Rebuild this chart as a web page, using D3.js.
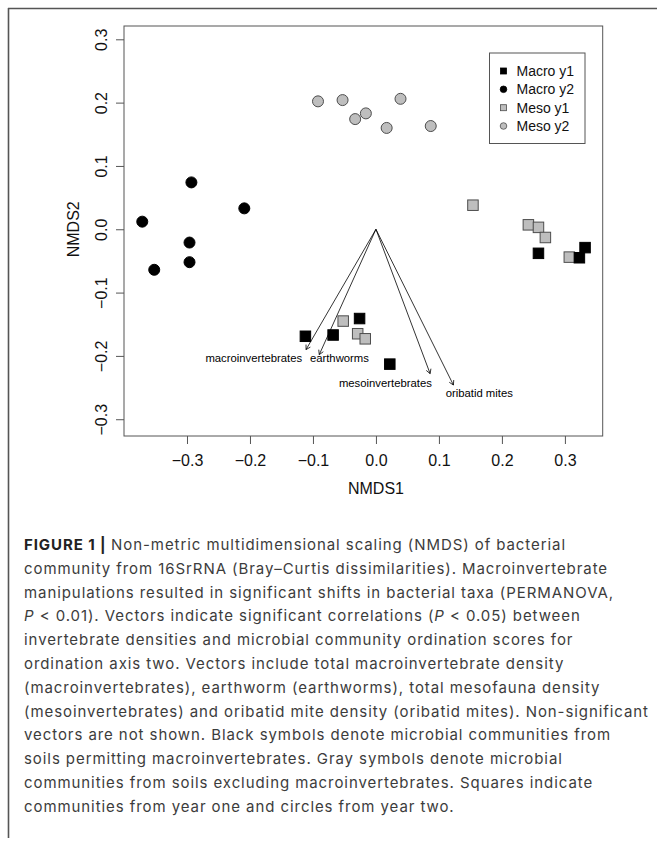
<!DOCTYPE html>
<html>
<head>
<meta charset="utf-8">
<script src="https://cdn.jsdelivr.net/npm/d3@7"></script>
<style>
  html, body { margin: 0; padding: 0; background: #fff; }
  svg { display: block; }
</style>
</head>
<body>
<svg id="chart" width="657" height="841"></svg>
<script>
// ---------------- DATA ----------------
const xTicks = [-0.3, -0.2, -0.1, 0.0, 0.1, 0.2, 0.3];
const yTicks = [-0.3, -0.2, -0.1, 0.0, 0.1, 0.2, 0.3];

// NMDS scores [NMDS1, NMDS2]
const macroY1 = [[-0.112,-0.169],[-0.068,-0.167],[-0.026,-0.141],[0.022,-0.213],[0.258,-0.038],[0.323,-0.045],[0.332,-0.029]];
const macroY2 = [[-0.371,0.012],[-0.352,-0.064],[-0.293,0.074],[-0.296,-0.021],[-0.296,-0.052],[-0.209,0.033]];
const mesoY1  = [[-0.052,-0.145],[-0.029,-0.165],[-0.017,-0.173],[0.154,0.038],[0.242,0.007],[0.258,0.003],[0.269,-0.013],[0.307,-0.044]];
const mesoY2  = [[-0.092,0.202],[-0.053,0.204],[-0.033,0.174],[-0.016,0.183],[0.017,0.160],[0.039,0.206],[0.087,0.163]];

// envfit vectors
const vectorNames = ["macroinvertebrates", "earthworms", "mesoinvertebrates", "oribatid mites"];
const vectorX = [-0.111, -0.090, 0.086, 0.123];
const vectorY = [-0.190, -0.198, -0.228, -0.246];
const vectorLabelX = [-0.194, -0.058, 0.015, 0.164];
const vectorLabelY = [-0.204, -0.204, -0.243, -0.259];

const legendLabels = ["Macro y1", "Macro y2", "Meso y1", "Meso y2"];

const captionLines = [
  [["b","FIGURE 1 | "],["n","Non-metric multidimensional scaling (NMDS) of bacterial"]],
  [["n","community from 16SrRNA (Bray\u2013Curtis dissimilarities). Macroinvertebrate"]],
  [["n","manipulations resulted in significant shifts in bacterial taxa (PERMANOVA,"]],
  [["i","P"],["n"," < 0.01). Vectors indicate significant correlations ("],["i","P"],["n"," < 0.05) between"]],
  [["n","invertebrate densities and microbial community ordination scores for"]],
  [["n","ordination axis two. Vectors include total macroinvertebrate density"]],
  [["n","(macroinvertebrates), earthworm (earthworms), total mesofauna density"]],
  [["n","(mesoinvertebrates) and oribatid mite density (oribatid mites). Non-significant"]],
  [["n","vectors are not shown. Black symbols denote microbial communities from"]],
  [["n","soils permitting macroinvertebrates. Gray symbols denote microbial"]],
  [["n","communities from soils excluding macroinvertebrates. Squares indicate"]],
  [["n","communities from year one and circles from year two."]]
];
const captionLineEnds = [575, 608, 610, 584, 570, 560, 595, 636, 616, 563, 594, 454];

// ---------------- DRAW ----------------
const svg = d3.select("#chart");
const FONT = "'Liberation Sans', Arial, Helvetica, sans-serif";
const CAP_FONT = "Inter, 'Liberation Sans', Arial, sans-serif";
const GRAY = "#bebebe";
const EDGE = "#4d4d4d";

// outer frame (top + left rule)
svg.append("line").attr("x1", 8).attr("y1", 8.5).attr("x2", 657).attr("y2", 8.5)
  .attr("stroke", "#555").attr("stroke-width", 1.6);
svg.append("line").attr("x1", 8.5).attr("y1", 8).attr("x2", 8.5).attr("y2", 838)
  .attr("stroke", "#555").attr("stroke-width", 1.6);

const x = d3.scaleLinear().domain([-0.4, 0.36]).range([124, 602.7]);
const y = d3.scaleLinear().domain([-0.3265, 0.321]).range([436, 26]);
const fmt = d3.format(".1f");

// plot box
svg.append("rect").attr("x", x.range()[0]).attr("y", y.range()[1])
  .attr("width", x.range()[1] - x.range()[0]).attr("height", y.range()[0] - y.range()[1])
  .attr("fill", "none").attr("stroke", "#555").attr("stroke-width", 1);

// x axis
const gx = svg.append("g").attr("transform", `translate(0,${y.range()[0]})`)
  .call(d3.axisBottom(x).tickValues(xTicks).tickFormat(fmt).tickSize(8).tickPadding(11));
gx.select(".domain").remove();
gx.selectAll(".tick line").attr("stroke", "#555");
gx.selectAll("text").attr("font-family", FONT).attr("font-size", 16).attr("fill", "#111");

// y axis
const gy = svg.append("g").attr("transform", `translate(${x.range()[0]},0)`)
  .call(d3.axisLeft(y).tickValues(yTicks).tickFormat(fmt).tickSize(8));
gy.select(".domain").remove();
gy.selectAll(".tick line").attr("stroke", "#555");
gy.selectAll("text")
  .attr("font-family", FONT).attr("font-size", 16).attr("fill", "#111")
  .attr("x", null).attr("dy", null)
  .attr("text-anchor", "middle")
  .attr("transform", "translate(-17,0) rotate(-90)");

// axis titles
svg.append("text").attr("x", x(0)).attr("y", 493.5).attr("text-anchor", "middle")
  .attr("font-family", FONT).attr("font-size", 16).attr("fill", "#111").text("NMDS1");
svg.append("text").attr("transform", `translate(78.5,${y(0)}) rotate(-90)`)
  .attr("text-anchor", "middle")
  .attr("font-family", FONT).attr("font-size", 16).attr("fill", "#111").text("NMDS2");

// points
const SQ = 10.5, R = 5.5;
function squares(data, fill, stroke) {
  svg.append("g").selectAll("rect").data(data).join("rect")
    .attr("x", d => x(d[0]) - SQ / 2).attr("y", d => y(d[1]) - SQ / 2)
    .attr("width", SQ).attr("height", SQ)
    .attr("fill", fill).attr("stroke", stroke).attr("stroke-width", 1);
}
function circles(data, fill, stroke) {
  svg.append("g").selectAll("circle").data(data).join("circle")
    .attr("cx", d => x(d[0])).attr("cy", d => y(d[1])).attr("r", R)
    .attr("fill", fill).attr("stroke", stroke).attr("stroke-width", 1);
}
circles(macroY2, "#000", "#000");
circles(mesoY2, GRAY, EDGE);
squares(mesoY1, GRAY, EDGE);
squares(macroY1, "#000", "#000");

// vectors
const vg = svg.append("g");
vectorNames.forEach((name, i) => {
  const x0 = x(0), y0 = y(0), x1 = x(vectorX[i]), y1 = y(vectorY[i]);
  vg.append("line").attr("x1", x0).attr("y1", y0).attr("x2", x1).attr("y2", y1)
    .attr("stroke", "#000").attr("stroke-width", 0.8);
  const ang = Math.atan2(y1 - y0, x1 - x0);
  const L = 5, a = Math.PI / 6;
  const p = [
    [x1 - L * Math.cos(ang - a), y1 - L * Math.sin(ang - a)],
    [x1, y1],
    [x1 - L * Math.cos(ang + a), y1 - L * Math.sin(ang + a)]
  ];
  vg.append("path").attr("d", d3.line()(p)).attr("fill", "none")
    .attr("stroke", "#000").attr("stroke-width", 0.8);
  vg.append("text").attr("x", x(vectorLabelX[i])).attr("y", y(vectorLabelY[i]))
    .attr("dy", "0.35em").attr("text-anchor", "middle")
    .attr("font-family", FONT).attr("font-size", 11.3).attr("fill", "#000").text(name);
});

// legend
const lg = svg.append("g");
lg.append("rect").attr("x", 489.5).attr("y", 53).attr("width", 95.5).attr("height", 90.5)
  .attr("fill", "#fff").attr("stroke", "#555").attr("stroke-width", 1);
const legendY = [71, 89.3, 107.7, 126];
legendLabels.forEach((lab, i) => {
  const cy = legendY[i], cx = 503.5;
  const fill = i < 2 ? "#000" : GRAY, stroke = i < 2 ? "#000" : EDGE;
  if (i % 2 === 0) {
    lg.append("rect").attr("x", cx - 3).attr("y", cy - 3).attr("width", 6).attr("height", 6)
      .attr("fill", fill).attr("stroke", stroke).attr("stroke-width", 0.8);
  } else {
    lg.append("circle").attr("cx", cx).attr("cy", cy).attr("r", 3.3)
      .attr("fill", fill).attr("stroke", stroke).attr("stroke-width", 0.8);
  }
  lg.append("text").attr("x", 516.5).attr("y", cy).attr("dy", "0.35em")
    .attr("font-family", FONT).attr("font-size", 14).attr("fill", "#111").text(lab);
});

// caption
const CAP_X = 24, CAP_Y0 = 550, CAP_DY = 23.8, CAP_FS = 15;
const cg = svg.append("g").attr("font-family", CAP_FONT).attr("fill", "#3c3c3c");
const texts = [];
captionLines.forEach((parts, i) => {
  const t = cg.append("text").attr("x", CAP_X).attr("y", CAP_Y0 + i * CAP_DY).attr("font-size", CAP_FS);
  parts.forEach(([style, str]) => {
    const s = t.append("tspan").text(str);
    if (style === "b") s.attr("font-weight", "bold").attr("fill", "#222");
    if (style === "i") s.attr("font-style", "italic");
  });
  texts.push(t);
});
// fit letter spacing to measured line widths
const spacings = texts.map((t, i) => {
  const n = t.text().length;
  return ((captionLineEnds[i] - CAP_X) - t.node().getComputedTextLength()) / n;
}).sort((a, b) => a - b);
const ls = spacings[Math.floor(spacings.length / 2)];
texts.forEach(t => t.attr("letter-spacing", ls.toFixed(3)));
</script>
</body>
</html>
